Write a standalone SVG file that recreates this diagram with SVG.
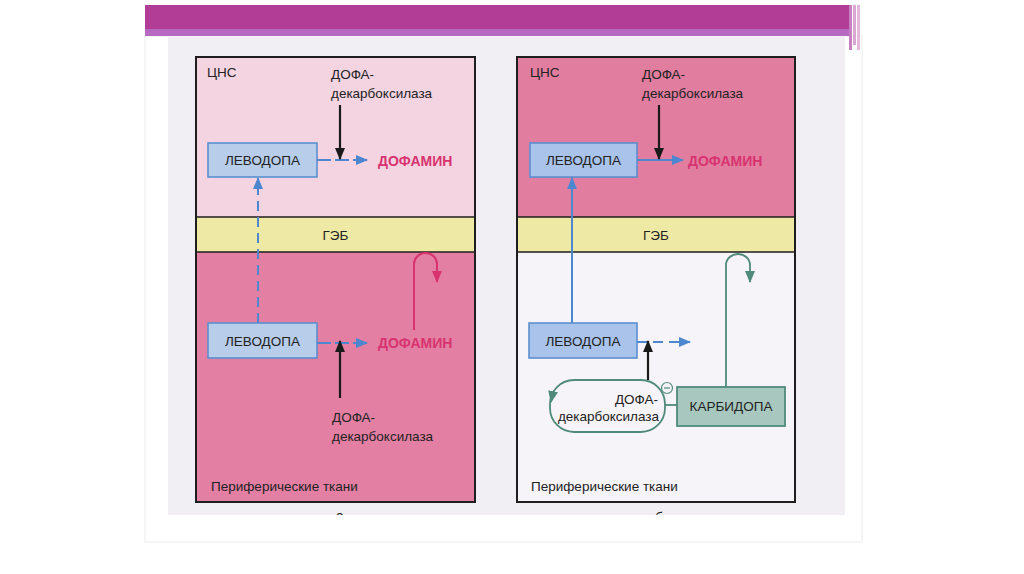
<svg xmlns="http://www.w3.org/2000/svg" width="1024" height="574" viewBox="0 0 1024 574">
<style>
text{font-family:"Liberation Sans","Noto Sans",Arial,sans-serif;fill:#222222}
.t13{font-size:13.5px}
.lbl{font-size:13.5px;text-anchor:middle}
.dop{font-size:14px;font-weight:bold;fill:#d8336f}
.frame{fill:none;stroke:#1e1e1e;stroke-width:2}
.sep{stroke:#1e1e1e;stroke-width:1.6}
.lev{stroke:#5b8fd0;stroke-width:1.6}
.blue{stroke:#4d87cf;stroke-width:2;fill:none}
.dash{stroke-dasharray:10 6}
.blk{stroke:#1a1a1a;stroke-width:2.2;fill:none}
.grn{stroke:#4f8a7a;stroke-width:1.8;fill:none}
.red{stroke:#d8336f;stroke-width:2;fill:none}
</style>
<defs>
<marker id="ab" markerWidth="12" markerHeight="10" refX="11" refY="5" orient="auto" markerUnits="userSpaceOnUse"><path d="M0,0 L12,5 L0,10 Z" fill="#4d87cf"/></marker>
<marker id="ak" markerWidth="12" markerHeight="10" refX="11" refY="5" orient="auto" markerUnits="userSpaceOnUse"><path d="M0,0 L12,5 L0,10 Z" fill="#1a1a1a"/></marker>
<marker id="ag" markerWidth="12" markerHeight="10" refX="11" refY="5" orient="auto" markerUnits="userSpaceOnUse"><path d="M0,0 L12,5 L0,10 Z" fill="#4f8a7a"/></marker>
<marker id="ar" markerWidth="12" markerHeight="10" refX="11" refY="5" orient="auto" markerUnits="userSpaceOnUse"><path d="M0,0 L12,5 L0,10 Z" fill="#d8336f"/></marker>
<clipPath id="scan"><rect x="168" y="37" width="677" height="478"/></clipPath>
</defs>

<!-- page -->
<rect x="0" y="0" width="1024" height="574" fill="#ffffff"/>
<rect x="145" y="36" width="717" height="506" fill="#ffffff" stroke="#ececf0" stroke-width="1"/>
<rect x="168" y="37" width="677" height="478" fill="#f1eff4"/>
<g id="header">
<rect x="145" y="5" width="704" height="25" fill="#b13d97"/>
<rect x="145" y="29" width="704" height="7" fill="#b569c0"/>
<rect x="849" y="5" width="3" height="45" fill="#c77fbf"/>
<rect x="853" y="5" width="3" height="40" fill="#d9a6d2"/>
<rect x="857" y="5" width="3" height="45" fill="#e2b8dc"/>
</g>

<!-- left panel -->
<g id="panel-a">
<rect x="196" y="57" width="279" height="160" fill="#f4d4e1"/>
<rect x="196" y="217" width="279" height="35" fill="#eee9a4"/>
<rect x="196" y="252" width="279" height="250" fill="#e27fa2"/>
<line class="sep" x1="196" y1="217" x2="475" y2="217"/>
<line class="sep" x1="196" y1="252" x2="475" y2="252"/>
<rect class="frame" x="196" y="57" width="279" height="445"/>
<text class="t13" x="207" y="77">ЦНС</text>
<text class="lbl" x="335.5" y="240">ГЭБ</text>
<text class="t13" x="211" y="491">Периферические ткани</text>
</g>

<!-- right panel -->
<g id="panel-b">
<rect x="517" y="57" width="278" height="160" fill="#e17d9f"/>
<rect x="517" y="217" width="278" height="35" fill="#eee9a4"/>
<rect x="517" y="252" width="278" height="250" fill="#f6f4f8"/>
<line class="sep" x1="517" y1="217" x2="795" y2="217"/>
<line class="sep" x1="517" y1="252" x2="795" y2="252"/>
<rect class="frame" x="517" y="57" width="278" height="445"/>
<text class="t13" x="530" y="77">ЦНС</text>
<text class="lbl" x="656" y="240">ГЭБ</text>
<text class="t13" x="531" y="491">Периферические ткани</text>
</g>

<!-- nodes -->
<g id="a-levodopa-cns">
<rect class="lev" x="208" y="143" width="109" height="34" fill="#b7cdea"/>
<text class="lbl" x="262.5" y="165">ЛЕВОДОПА</text>
</g>
<g id="a-dopamine-cns"><text class="dop" x="378" y="166">ДОФАМИН</text></g>
<g id="a-ddc-cns"><text class="t13" x="331" y="79">ДОФА-</text><text class="t13" x="331" y="98">декарбоксилаза</text></g>

<g id="a-levodopa-per">
<rect class="lev" x="208" y="323" width="109" height="35" fill="#b7cdea"/>
<text class="lbl" x="262.5" y="346">ЛЕВОДОПА</text>
</g>
<g id="a-dopamine-per"><text class="dop" x="378" y="348">ДОФАМИН</text></g>
<g id="a-ddc-per"><text class="t13" x="332" y="422">ДОФА-</text><text class="t13" x="332" y="441">декарбоксилаза</text></g>

<g id="b-levodopa-cns">
<rect class="lev" x="530" y="143" width="107" height="34" fill="#a9c3eb"/>
<text class="lbl" x="583.5" y="165">ЛЕВОДОПА</text>
</g>
<g id="b-dopamine-cns"><text class="dop" x="688" y="166">ДОФАМИН</text></g>
<g id="b-ddc-cns"><text class="t13" x="642" y="79">ДОФА-</text><text class="t13" x="642" y="98">декарбоксилаза</text></g>

<g id="b-levodopa-per">
<rect class="lev" x="529" y="323" width="108" height="35" fill="#a9c3eb"/>
<text class="lbl" x="583" y="346">ЛЕВОДОПА</text>
</g>
<g id="b-ddc-per">
<rect class="grn" x="550" y="380" width="115" height="52" rx="24" fill="#f6f4f8"/>
<text class="t13" x="658" y="404" text-anchor="end">ДОФА-</text>
<text class="t13" x="659" y="421" text-anchor="end">декарбоксилаза</text>
</g>
<g id="b-carbidopa">
<rect x="677" y="387" width="108" height="39" fill="#a8c8bf" stroke="#4f8a7a" stroke-width="1.8"/>
<text class="lbl" x="731" y="411">КАРБИДОПА</text>
</g>

<!-- connectors -->
<g id="connectors">
<!-- panel a -->
<line class="blue dash" x1="258" y1="323" x2="258" y2="178" marker-end="url(#ab)"/>
<line class="blue" x1="317" y1="160" x2="367" y2="160" stroke-dasharray="14 4" marker-end="url(#ab)"/>
<line class="blk" x1="340" y1="105" x2="340" y2="159" marker-end="url(#ak)"/>
<line class="blue" x1="317" y1="343" x2="367" y2="343" stroke-dasharray="14 4" marker-end="url(#ab)"/>
<line class="blk" x1="340" y1="398" x2="340" y2="341" marker-end="url(#ak)"/>
<path class="red" d="M414,330 V264 A11.5,11 0 0 1 437,264 V282" marker-end="url(#ar)"/>
<!-- panel b -->
<line class="blue" x1="572" y1="323" x2="572" y2="178" stroke-width="1.6" marker-end="url(#ab)"/>
<line class="blue" x1="637" y1="160" x2="683" y2="160" marker-end="url(#ab)"/>
<line class="blk" x1="659" y1="105" x2="659" y2="159" marker-end="url(#ak)"/>
<line class="blue dash" x1="637" y1="342" x2="690" y2="342" marker-end="url(#ab)"/>
<line class="blk" x1="648" y1="380" x2="648" y2="341" marker-end="url(#ak)"/>
<path class="grn" d="M553,392 L551,402" marker-end="url(#ag)"/>
<line class="grn" x1="665" y1="405" x2="677" y2="405"/>
<circle cx="667" cy="388" r="5.5" fill="#f6f4f8" stroke="#4f8a7a" stroke-width="1.2"/>
<line x1="664" y1="388" x2="670" y2="388" stroke="#4f8a7a" stroke-width="1.2"/>
<path class="grn" d="M726,387 V265 A12,11 0 0 1 750,265 V282" marker-end="url(#ag)"/>
</g>

<!-- captions clipped by scan edge -->
<g clip-path="url(#scan)">
<text x="340" y="521" font-size="14" text-anchor="middle">а</text>
<text x="659" y="523" font-size="14" text-anchor="middle">б</text>
</g>
</svg>
